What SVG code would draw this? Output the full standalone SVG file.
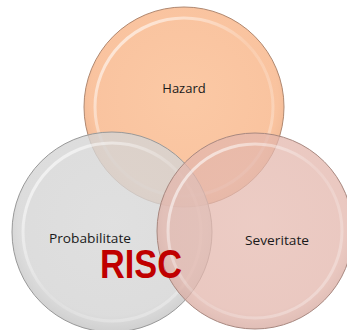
<svg xmlns="http://www.w3.org/2000/svg" width="347" height="330" viewBox="0 0 347 330">
<style>
.lbl{font-family:"Open Sans","Liberation Sans",sans-serif;font-size:13px;fill:#1a1a1a;text-anchor:middle}
.ring{fill:none;stroke:url(#gRing);stroke-width:3}
.risc{font-family:"Liberation Sans",Arial,sans-serif;font-weight:bold;font-size:41px;fill:#C00000}
</style>
<defs>
<linearGradient id="gRing" x1="0" y1="0" x2="1" y2="1"><stop offset="0" stop-color="#ffffff" stop-opacity="0.75"/><stop offset="0.5" stop-color="#ffffff" stop-opacity="0.15"/><stop offset="1" stop-color="#ffffff" stop-opacity="0.35"/></linearGradient>
<radialGradient id="gO" cx="50%" cy="45%" r="55%"><stop offset="0" stop-color="#FBC6A0"/><stop offset="0.85" stop-color="#F9C09A"/><stop offset="1" stop-color="#EDB38E"/></radialGradient>
<radialGradient id="gG" cx="50%" cy="45%" r="55%"><stop offset="0" stop-color="#D8D8D8"/><stop offset="0.85" stop-color="#D4D4D4"/><stop offset="1" stop-color="#C4C4C4"/></radialGradient>
<radialGradient id="gP" cx="50%" cy="45%" r="55%"><stop offset="0" stop-color="#E6BBB1"/><stop offset="0.85" stop-color="#E3B6AC"/><stop offset="1" stop-color="#D6A89E"/></radialGradient>
</defs>
<g id="hazard">
<circle cx="184" cy="107" r="100" fill="url(#gO)" fill-opacity="0.95" stroke="#B08870" stroke-width="1"/>
<circle class="ring" cx="184" cy="107" r="89"/>
<text class="lbl" x="184" y="93">Hazard</text>
</g>
<g id="probabilitate">
<circle cx="112" cy="232" r="100" fill="url(#gG)" fill-opacity="0.8" stroke="#999999" stroke-width="1"/>
<circle class="ring" cx="112" cy="232" r="89"/>
<text class="lbl" x="90" y="243" textLength="82" lengthAdjust="spacingAndGlyphs">Probabilitate</text>
</g>
<g id="severitate">
<circle cx="255" cy="231" r="98" fill="url(#gP)" fill-opacity="0.75" stroke="#A88880" stroke-width="1"/>
<circle class="ring" cx="255" cy="231" r="87"/>
<text class="lbl" x="277" y="245" textLength="64" lengthAdjust="spacingAndGlyphs">Severitate</text>
</g>
<g id="risc">
<text class="risc" x="100" y="278" textLength="82" lengthAdjust="spacingAndGlyphs">RISC</text>
</g>
</svg>
